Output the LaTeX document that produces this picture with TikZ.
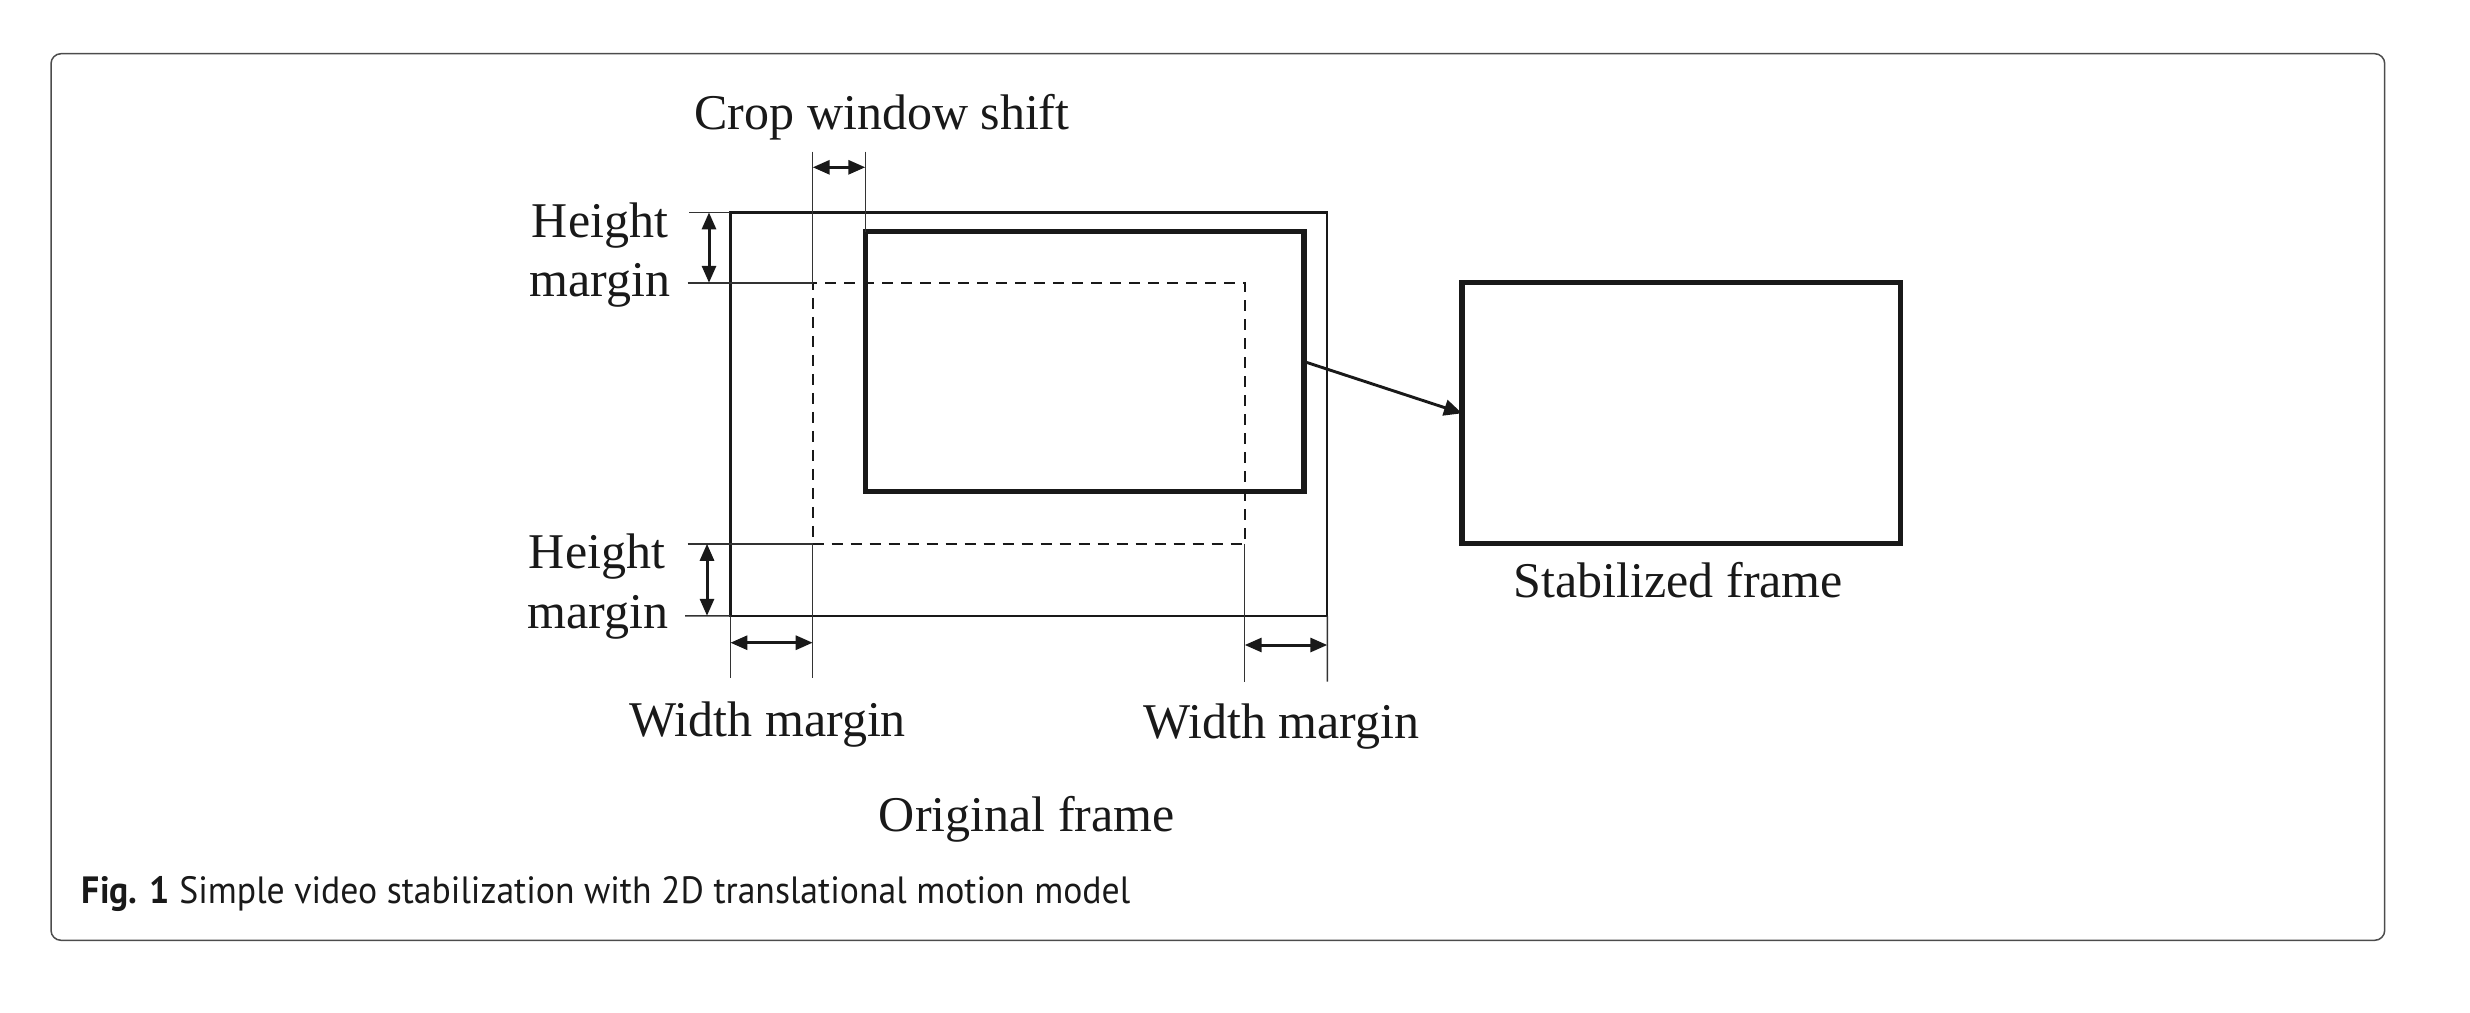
\documentclass[tikz,border=0pt]{standalone}
\usepackage{fontspec}
\setmainfont{Liberation Serif}
\newfontfamily\capfont[FakeStretch=0.94]{PT Sans}
\usetikzlibrary{arrows.meta,calc}
\begin{document}
\begin{tikzpicture}[x=1pt,y=-1pt,
  lbl/.style={font=\fontsize{50}{59}\selectfont, inner sep=0pt, text=black!90},
  card/.style={draw=black!70, line width=1.5pt, rounded corners=10pt},
  origbox/.style={draw=black!90, line width=2.2pt, inner sep=0pt, outer sep=0pt},
  thickbox/.style={draw=black!90, line width=5.3pt, inner sep=0pt, outer sep=0pt},
  dashbox/.style={draw=black!90, line width=2.2pt, dash pattern=on 11pt off 8pt, inner sep=0pt, outer sep=0pt},
  extline/.style={draw=black!80, line width=1.4pt},
  dimarrow/.style={draw=black!90, line width=3pt, {Triangle[length=17pt,width=14pt]}-{Triangle[length=17pt,width=14pt]}},
  mainarrow/.style={draw=black!90, line width=2.9pt, -{Triangle[length=18pt,width=16pt]}}
]
\useasboundingbox (0,0) rectangle (2470,1012);
% card
\draw[card] (51,53.7) rectangle (2384.7,940.3);

% frames
\node[origbox, minimum width=596.9pt, minimum height=403.4pt, anchor=north west] (orig) at (730.4,212.4) {};
\node[dashbox, minimum width=432pt, minimum height=261pt, anchor=north west] (crop) at (812.7,282.8) {};
\node[thickbox, minimum width=438.7pt, minimum height=260.1pt, anchor=north west] (shift) at (865.3,231.5) {};
\node[thickbox, minimum width=438.2pt, minimum height=261pt, anchor=north west] (stab) at (1462,282.8) {};

% extension lines
\coordinate (cropTop) at (812.7,151.6);
\coordinate (shiftTop) at (865.3,151.6);
\draw[extline] (cropTop) -- (crop.north west);
\draw[extline] (shiftTop) -- (shift.north west);
\coordinate (hA) at (689,212.4);
\coordinate (hB) at (687.5,282.8);
\coordinate (hC) at (687.5,543.8);
\coordinate (hD) at (685,615.8);
\draw[extline] (hA) -- (orig.north west);
\draw[extline] (hB) -- (crop.north west);
\draw[extline] (hC) -- (crop.south west);
\draw[extline] (hD) -- (orig.south west);
\coordinate (vA) at (730.4,677.7);
\coordinate (vB) at (812.7,677.7);
\coordinate (vC) at (1244.7,681.7);
\coordinate (vD) at (1327.3,681.7);
\draw[extline] (orig.south west) -- (vA);
\draw[extline] (crop.south west) -- (vB);
\draw[extline] (crop.south east) -- (vC);
\draw[extline] (orig.south east) -- (vD);

% dimension arrows
\coordinate (csL) at (812.7,167.3);
\coordinate (csR) at (865.3,167.3);
\draw[dimarrow] (csL) -- (csR);
\coordinate (htT) at (709,212.4);
\coordinate (htB) at (709,282.8);
\draw[dimarrow] (htT) -- (htB);
\coordinate (hbT) at (707,543.8);
\coordinate (hbB) at (707,615.8);
\draw[dimarrow] (hbT) -- (hbB);
\coordinate (wlL) at (730.4,642.7);
\coordinate (wlR) at (812.7,642.7);
\draw[dimarrow] (wlL) -- (wlR);
\coordinate (wrL) at (1244.7,645);
\coordinate (wrR) at (1327.3,645);
\draw[dimarrow] (wrL) -- (wrR);

% main arrow
\draw[mainarrow] (shift.east) -- (stab.west);

% labels
\node[lbl, anchor=base] (lcrop) at (882,129) {Crop window shift};
\node[lbl, anchor=base] (lh1a) at (600,237) {Height};
\node[lbl, anchor=base] (lh1b) at (600,296) {margin};
\node[lbl, anchor=base] (lh2a) at (597,568) {Height};
\node[lbl, anchor=base] (lh2b) at (598,628) {margin};
\node[lbl, anchor=base] (lw1) at (767.8,736.7) {Width margin};
\node[lbl, anchor=base] (lw2) at (1281.5,738) {Width margin};
\node[lbl, anchor=base] (lorig) at (1026.8,831.7) {Original frame};
\node[lbl, anchor=base] (lstab) at (1678.4,597.4) {Stabilized frame};

% caption
\node[anchor=base west, inner sep=0pt, font=\capfont\fontsize{38}{44}\selectfont, text=black!90] (cap) at (81.7,903.3) {\textbf{Fig. 1} Simple video stabilization with 2D translational motion model};
\end{tikzpicture}
\end{document}
